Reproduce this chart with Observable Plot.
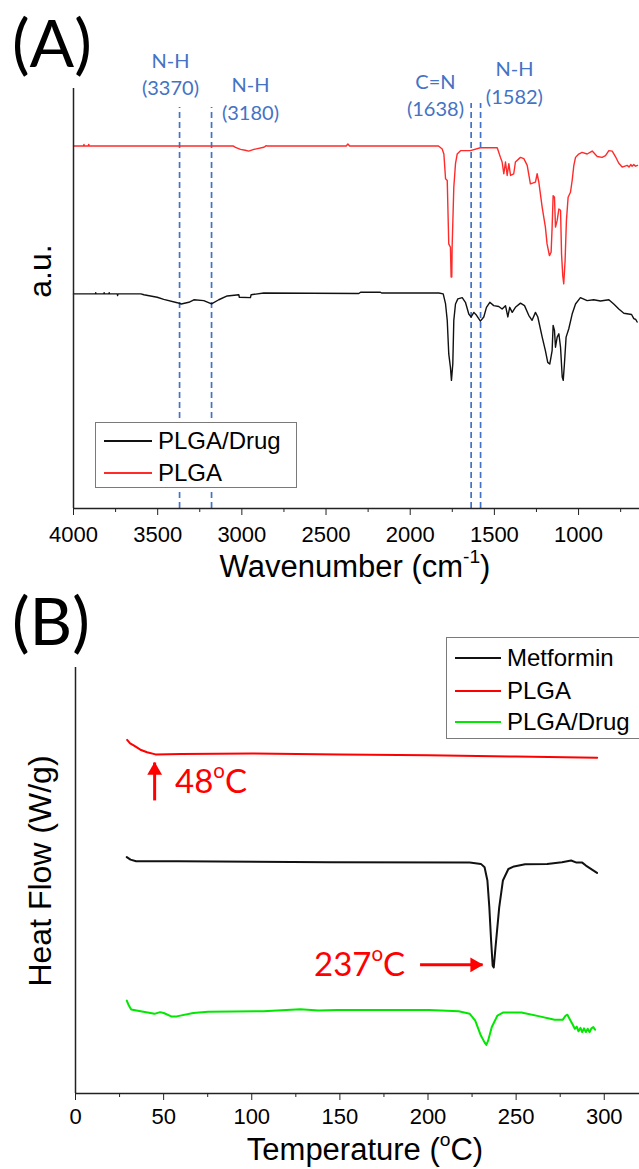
<!DOCTYPE html>
<html><head><meta charset="utf-8">
<script src="https://cdn.jsdelivr.net/npm/d3@7"></script>
<script src="https://cdn.jsdelivr.net/npm/@observablehq/plot@0.6"></script>
<style>
body{margin:0;background:#fff;}
#wrap{position:relative;width:639px;height:1169px;overflow:hidden;background:#fff;font-family:"Liberation Sans",Arial,sans-serif;}
#wrap svg{position:absolute;left:0;}
.abs{position:absolute;line-height:1;white-space:nowrap;}
.lato{font-family:Lato,"Open Sans",sans-serif;}
.sup{position:relative;top:-0.72em;font-size:0.62em;}
.rot{transform:translate(-50%,-50%) rotate(-90deg);}
.legend{position:absolute;background:#fff;border:1px solid #7a7a7a;}
.legend .ln{position:absolute;height:0;border-top:2px solid;}
.legend .tx{position:absolute;font-size:24px;line-height:1;white-space:nowrap;}
</style></head>
<body><div id="wrap"></div>
<script>
// ---------- Panel A: FTIR (wavenumber, a.u.) ----------
const ftirTicksMajor = [4000, 3500, 3000, 2500, 2000, 1500, 1000];
const ftirTicksMinor = [3750, 3250, 2750, 2250, 1750, 1250, 750];
const ftirPLGA = [
[4000,86.3],[3940,86.3],[3938,86.7],[3935,86.3],[3912,86.3],[3910,86.7],[3906,86.3],[3050,86.3],[3038,86.0],[3008,85.5],[2980,85.3],[2959,85.1],[2929,85.5],[2869,86.0],[2855,86.4],[2850,86.3],
[2380,86.3],[2370,86.8],[2360,86.3],[1832,86.3],[1810,85.6],[1800,84.4],[1790,78.5],[1780,78.1],[1771,63.0],[1761,62.2],[1757,55.1],[1753,55.1],[1751,62.2],[1741,76.5],[1731,82.1],[1721,84.4],[1701,85.2],
[1642,85.2],[1583,85.9],[1483,85.9],[1464,83.6],[1454,82.5],[1444,79.7],[1434,82.5],[1424,79.3],[1414,82.1],[1404,79.3],[1385,79.7],[1375,82.5],[1345,83.6],[1325,83.3],[1305,81.7],[1286,77.3],
[1256,77.7],[1246,79.7],[1236,77.7],[1216,71.7],[1197,67.0],[1187,63.0],[1173,60.2],[1163,61.0],[1157,67.0],[1151,74.5],[1143,74.1],[1137,67.0],[1127,68.6],[1117,71.3],[1107,71.0],[1101,60.6],
[1094,55.5],[1088,53.5],[1080,59.0],[1072,68.6],[1062,74.1],[1048,75.3],[1038,78.1],[1028,81.7],[1018,83.6],[999,84.4],[979,84.8],[949,84.4],[919,85.1],[889,83.8],[860,83.6],[840,84.0],
[820,85.2],[800,85.1],[781,83.8],[761,82.2],[741,81.3],[711,81.7],[700,81.3],[690,81.9],[682,81.5],[672,81.9],[662,81.5],[650,81.7]
];
const ftirDrug = [
[4000,51.1],[3870,51.1],[3868,51.4],[3866,51.1],[3820,51.1],[3818,51.4],[3816,51.1],[3790,51.1],[3788,51.4],[3786,51.1],[3740,51.1],[3738,50.7],[3736,51.1],[3600,51.1],[3582,50.9],[3503,50.3],
[3464,49.8],[3384,49.0],[3360,48.7],[3315,49.1],[3285,49.7],[3226,49.5],[3180,48.7],[3137,49.7],[3087,50.6],[3018,50.9],[3015,50.3],[2949,50.2],[2945,50.9],[2870,51.3],[2305,51.2],[2295,51.5],
[2177,51.5],[2170,51.3],[2077,51.3],[1830,51.3],[1804,51.1],[1790,48.7],[1780,44.8],[1771,36.8],[1761,33.6],[1755,30.5],[1747,34.4],[1741,44.8],[1731,48.7],[1717,49.9],[1691,50.2],[1672,49.1],
[1652,46.3],[1638,45.6],[1622,46.7],[1606,46.0],[1583,44.6],[1563,45.6],[1547,47.9],[1527,49.1],[1504,48.3],[1474,48.1],[1454,47.5],[1434,48.3],[1420,45.6],[1409,47.9],[1394,46.7],[1375,47.9],
[1345,48.9],[1321,48.3],[1296,46.0],[1276,44.8],[1256,46.7],[1242,45.6],[1216,40.8],[1197,37.6],[1183,34.8],[1171,34.4],[1157,37.6],[1151,43.6],[1143,42.4],[1137,38.4],[1127,40.8],[1117,41.6],
[1107,38.4],[1097,31.3],[1091,30.5],[1084,34.4],[1074,40.8],[1058,42.8],[1038,46.3],[1018,48.7],[989,50.2],[949,49.5],[910,49.7],[870,49.4],[820,49.7],[791,48.7],[761,47.5],[731,46.5],
[685,46.2],[672,45.2],[660,45.0],[652,44.4]
];
const ftirSeries = ["PLGA/Drug", "PLGA"];
const ftirColors = ["#111111", "#ff2a2a"];
const peakWn = [3370, 3180, 1638, 1582];
const peakTop = [95.5, 95.5, 96.4, 96.4];
const peakLabels = ["N-H\n(3370)", "N-H\n(3180)", "C=N\n(1638)", "N-H\n(1582)"];
const peakLabelX = [3424, 2949, 1850, 1381];
const peakLabelY = [103.8, 98.0, 98.8, 101.7];

// ---------- Panel B: DSC (temperature, W/g) ----------
const dscTicksMajor = [0, 50, 100, 150, 200, 250, 300];
const dscTicksMinor = [25, 75, 125, 175, 225, 275];
const dscMetformin = [
[29.1,55.5],[31.2,54.9],[34.4,54.5],[58.4,54.5],[144.2,54.3],[223.7,54.2],[230,53.9],[232.1,53.1],[233.7,50.0],[234.8,43.7],[235.8,35.9],[236.7,30.0],[237.3,29.6],[238.3,34.3],[240.4,43.7],
[242.5,50.0],[245.6,52.7],[248.8,53.3],[255.1,53.8],[267.6,53.9],[276,54.3],[281.2,54.7],[284.3,54.2],[287.5,54.2],[289.6,53.5],[295.9,51.8]
];
const dscPLGA = [
[29.3,83.0],[31,82.2],[33,81.7],[36.8,80.7],[40.6,80.1],[45.4,79.6],[60,79.7],[100,79.8],[150,79.6],[200,79.4],[250,79.1],[296,78.8]
];
const dscDrug = [
[29.1,21.8],[30.2,20.7],[31.6,19.7],[35.4,19.4],[44.8,18.7],[48,19.1],[50.1,18.9],[54.3,18.1],[57.4,18.1],[66.8,18.9],[75.2,19.2],[106.6,19.3],[127.5,19.8],[137.9,19.5],[148.4,19.6],
[200.7,19.6],[217.4,19.3],[223.7,18.7],[226.8,17.1],[230,13.6],[232.1,12.0],[233.1,11.4],[234.1,12.4],[236.2,15.6],[239.4,18.3],[242.5,19.0],[253,19.0],[263.4,18.1],[271.8,17.3],[276.4,17.3],
[278.1,18.3],[279.1,18.5],[280.6,17.3],[282.3,16.0],[283.3,15.2],[284.4,15.7],[285.4,14.6],[286.5,15.4],[287.5,14.4],[288.5,15.3],[289.6,14.4],[290.6,15.2],[291.7,14.4],[292.7,15.3],[293.8,15.6],[294.8,15.0]
];
const dscSeries = ["Metformin", "PLGA", "PLGA/Drug"];
const dscColors = ["#111111", "#ff0000", "#00e800"];
// annotation arrows: [x1, y1, x2(tip), y2(tip)]
const arrow48 = [44.9, 68.8, 44.9, 77.7];
const arrow237 = [195.5, 30.2, 231, 30.2];

const FONT = "Liberation Sans, Arial, sans-serif";
const wrap = document.getElementById("wrap");

const plotA = Plot.plot({
  width: 639, height: 590,
  marginLeft: 73, marginRight: 0, marginTop: 88, marginBottom: 82,
  x: {domain: [4000, 638]},
  y: {domain: [0, 100], axis: null},
  style: {fontFamily: FONT, background: "transparent", color: "#000"},
  marks: [
    Plot.ruleX(peakWn, {x: d => d, y1: 0, y2: (d, i) => peakTop[i], stroke: "#4472c4", strokeWidth: 1.7, strokeDasharray: "6,4"}),
    Plot.line(ftirPLGA, {x: d => d[0], y: d => d[1], stroke: ftirColors[1], strokeWidth: 1.4}),
    Plot.line(ftirDrug, {x: d => d[0], y: d => d[1], stroke: ftirColors[0], strokeWidth: 1.4}),
    Plot.ruleY([0], {stroke: "#222", strokeWidth: 1.5}),
    Plot.ruleX([4000], {stroke: "#222", strokeWidth: 1.5}),
    Plot.axisX({ticks: ftirTicksMajor, tickSize: 7, tickPadding: 11, fontSize: 22, tickFormat: d => String(d), label: null, stroke: "#222"}),
    Plot.axisX({ticks: ftirTicksMinor, tickSize: 4, tickFormat: () => "", label: null, stroke: "#222"}),
    Plot.text(peakLabels, {x: (d, i) => peakLabelX[i], y: (d, i) => peakLabelY[i], text: d => d, fill: "#4472c4", fontSize: 20, lineHeight: 1.4, fontFamily: "Lato, Open Sans, sans-serif"})
  ]
});
plotA.style.top = "0px";
wrap.appendChild(plotA);

const plotB = Plot.plot({
  width: 639, height: 579,
  marginLeft: 75, marginRight: 0, marginTop: 77, marginBottom: 76,
  x: {domain: [0, 320]},
  y: {domain: [0, 100], axis: null},
  style: {fontFamily: FONT, background: "transparent", color: "#000"},
  marks: [
    Plot.line(dscPLGA, {x: d => d[0], y: d => d[1], stroke: dscColors[1], strokeWidth: 2}),
    Plot.line(dscMetformin, {x: d => d[0], y: d => d[1], stroke: dscColors[0], strokeWidth: 2}),
    Plot.line(dscDrug, {x: d => d[0], y: d => d[1], stroke: dscColors[2], strokeWidth: 2}),
    Plot.ruleY([0], {stroke: "#222", strokeWidth: 1.5}),
    Plot.ruleX([0], {stroke: "#222", strokeWidth: 1.5}),
    Plot.axisX({ticks: dscTicksMajor, tickSize: 7, tickPadding: 8, fontSize: 22, tickFormat: d => String(d), label: null, stroke: "#222"}),
    Plot.axisX({ticks: dscTicksMinor, tickSize: 4, tickFormat: () => "", label: null, stroke: "#222"}),
    Plot.link([arrow48, arrow237], {x1: d => d[0], y1: d => d[1], x2: d => d[2], y2: d => d[3], stroke: "#ff0000", strokeWidth: 3}),
    Plot.dot([arrow48], {x: d => d[2], y: d => d[3], symbol: "triangle", r: 5.5, fill: "#ff0000", stroke: "none", dy: 8}),
    Plot.dot([arrow237], {x: d => d[2], y: d => d[3], symbol: "triangle", r: 5.5, rotate: 90, fill: "#ff0000", stroke: "none", dx: -8})
  ]
});
plotB.style.top = "590px";
wrap.appendChild(plotB);

function addDiv(html, cls, css) {
  const d = document.createElement("div");
  d.className = cls;
  d.innerHTML = html;
  Object.assign(d.style, css);
  wrap.appendChild(d);
  return d;
}
// panel labels
addDiv("(A)", "abs lato", {left: "12px", top: "9px", fontSize: "66px", color: "#000"});
addDiv("(B)", "abs lato", {left: "12px", top: "587px", fontSize: "66px", color: "#000"});
// axis titles
addDiv("a.u.", "abs rot", {left: "40px", top: "271px", fontSize: "32px"});
addDiv("Heat Flow (W/g)", "abs rot", {left: "40px", top: "871px", fontSize: "32px"});
addDiv("Wavenumber (cm<span class='sup'>-1</span>)", "abs", {left: "355px", top: "551px", fontSize: "31px", transform: "translateX(-50%)"});
addDiv("Temperature (<span class='sup'>o</span>C)", "abs", {left: "365px", top: "1134px", fontSize: "31px", transform: "translateX(-50%)"});
// DSC annotations
addDiv("48<span class='sup'>o</span>C", "abs lato", {left: "175px", top: "764px", fontSize: "33px", color: "#ff0000"});
addDiv("237<span class='sup'>o</span>C", "abs lato", {left: "314px", top: "947px", fontSize: "33px", color: "#ff0000"});

function legend(box, names, colors) {
  const lg = document.createElement("div");
  lg.className = "legend";
  Object.assign(lg.style, {left: box.left + "px", top: box.top + "px", width: box.width + "px", height: box.height + "px"});
  names.forEach((n, i) => {
    const cy = box.rows[i];
    const ln = document.createElement("div");
    ln.className = "ln";
    Object.assign(ln.style, {left: box.lineX + "px", width: box.lineW + "px", top: (cy - 1) + "px", borderColor: colors[i]});
    lg.appendChild(ln);
    const tx = document.createElement("div");
    tx.className = "tx";
    tx.textContent = n;
    Object.assign(tx.style, {left: box.textX + "px", top: (cy - 12) + "px"});
    lg.appendChild(tx);
  });
  wrap.appendChild(lg);
}
legend({left: 95, top: 422, width: 200, height: 64, rows: [18, 50], lineX: 8, lineW: 48, textX: 62}, ftirSeries, ftirColors);
legend({left: 446, top: 637, width: 260, height: 100, rows: [20, 53, 84], lineX: 8, lineW: 46, textX: 60}, dscSeries, dscColors);
</script></body></html>
